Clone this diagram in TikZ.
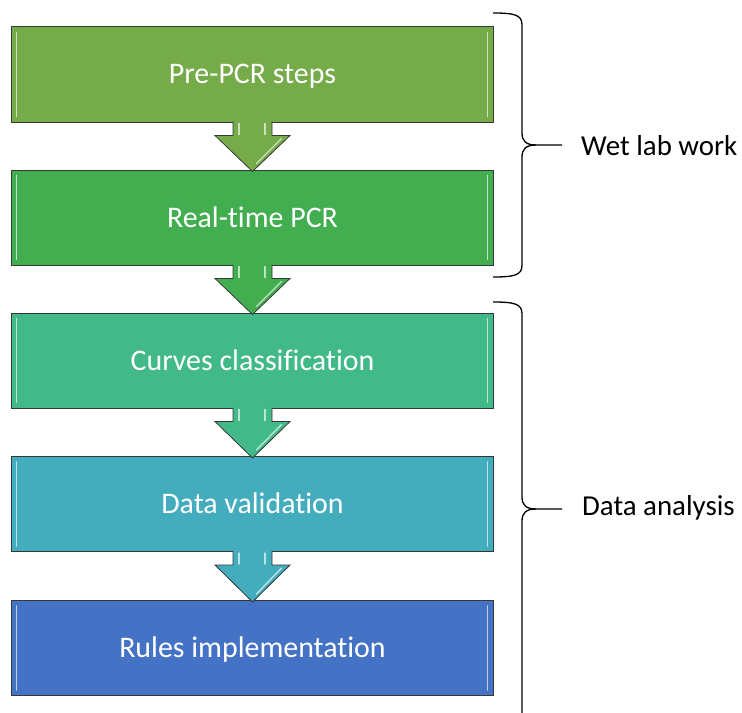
\documentclass[tikz,border=0pt]{standalone}
\usepackage{fontspec}
\setmainfont{Carlito}[Ligatures=NoCommon]
\usetikzlibrary{calc}
\definecolor{c1}{RGB}{117,171,72}
\definecolor{c2}{RGB}{66,174,80}
\definecolor{c3}{RGB}{66,185,137}
\definecolor{c4}{RGB}{67,173,190}
\definecolor{c5}{RGB}{68,114,196}
\definecolor{edge}{RGB}{55,55,55}
\tikzset{
  stepbox/.style={draw=edge, line width=1pt, fill=#1, minimum width=481bp, minimum height=95bp,
    inner sep=0pt, text=white, font=\fontsize{30}{34}\selectfont, text height=19bp, text depth=0pt},
  flowarrow/.style={draw=edge, line width=0.8pt, fill=#1, line join=miter},
  bevel/.style={draw=#1!35!white, line width=1.8pt, line cap=round},
  bracestyle/.style={draw=black, line width=1.3pt},
  grouplabel/.style={anchor=base west, inner sep=0pt, font=\fontsize{29}{33}\selectfont}
}
\newcommand{\flowarr}[3]{%
  \draw[flowarrow=#3] ($(#1.south)+(-19.5,-1)$) -- ++(0,14) -- ++(-18,0)
     -- ($(#2.north)+(0,2)$) -- ($(#1.south)+(37.5,13)$) -- ++(-18,0) -- ++(0,-14);
  \draw[bevel=#3, line width=1.4pt] ($(#1.south)+(-13.5,1)$) -- ++(0,11);
  \draw[bevel=#3, line width=1.4pt] ($(#1.south)+(12.5,1)$) -- ++(0,11);
  \draw[bevel=#3, line width=1.4pt] ($(#1.south)+(29,16)$) -- ($(#2.north)+(4,-6)$);
}
\newcommand{\boxbevel}[2]{%
  \draw[bevel=#2] ($(#1.north west)+(5,6)$) -- ($(#1.south west)+(5,-6)$);
  \draw[bevel=#2] ($(#1.north east)+(-6,6)$) -- ($(#1.south east)+(-6,-6)$);
}
\begin{document}
\begin{tikzpicture}[x=1bp,y=-1bp]
\useasboundingbox (0,0) rectangle (742,713);
\fill[white] (0,0) rectangle (742,713);
\node[stepbox=c1] (b1) at (252.5,74.5) {Pre-PCR steps};
\node[stepbox=c2] (b2) at (252.5,217.5) {Real-time PCR};
\node[stepbox=c3] (b3) at (252.5,360.5) {Curves classification};
\node[stepbox=c4] (b4) at (252.5,504) {Data validation};
\node[stepbox=c5] (b5) at (252.5,648) {Rules implementation};
\boxbevel{b1}{c1}
\boxbevel{b2}{c2}
\boxbevel{b3}{c3}
\boxbevel{b4}{c4}
\boxbevel{b5}{c5}
\flowarr{b1}{b2}{c1}
\flowarr{b2}{b3}{c2}
\flowarr{b3}{b4}{c3}
\flowarr{b4}{b5}{c4}
% braces
\coordinate (t1) at (562,145);
\coordinate (t2) at (562,509);
\draw[bracestyle] (493,13) .. controls (515,13) and (522,15) .. (522,25) -- (522,133)
   .. controls (522,141) and (526,145) .. (536,145) -- (t1);
\draw[bracestyle] (536,145) .. controls (526,145) and (522,149) .. (522,157) -- (522,265)
   .. controls (522,275) and (515,277) .. (493,277);
\draw[bracestyle] (493,302) .. controls (515,302) and (522,304) .. (522,314) -- (522,497)
   .. controls (522,505) and (526,509) .. (536,509) -- (t2);
\draw[bracestyle] (536,509) .. controls (526,509) and (522,513) .. (522,521) -- (522,716)
   .. controls (522,726) and (515,728) .. (493,728);
\node[grouplabel] (l1) at (581,155) {Wet lab work};
\node[grouplabel] (l2) at (582,515) {Data analysis};
\end{tikzpicture}
\end{document}
